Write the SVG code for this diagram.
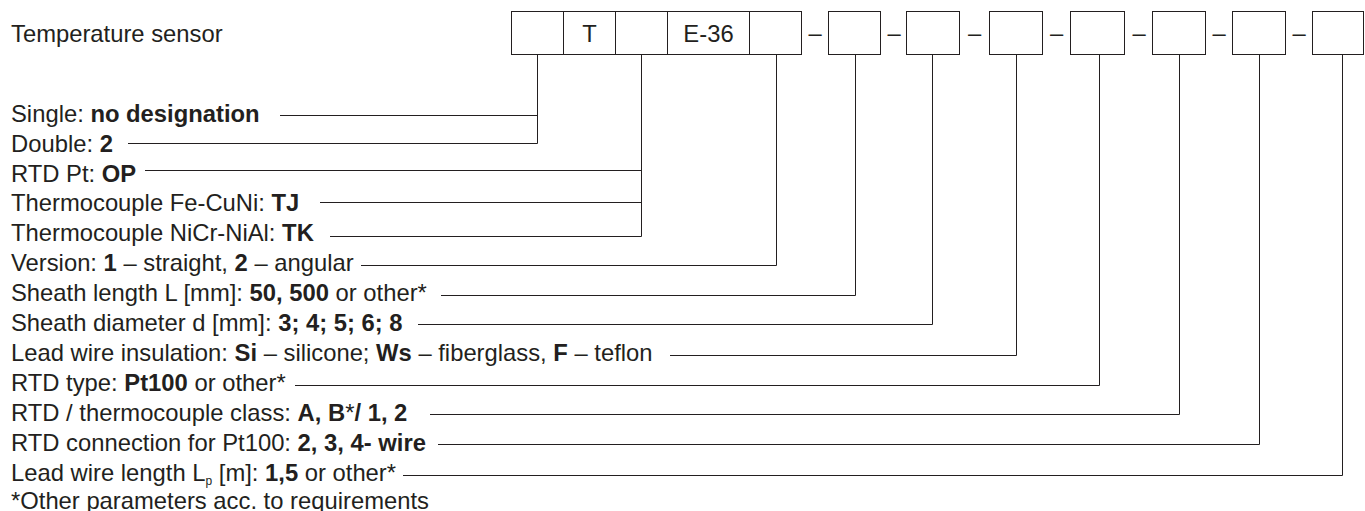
<svg xmlns="http://www.w3.org/2000/svg" width="1365" height="511" viewBox="0 0 1365 511">
<style>
text{font-family:"Liberation Sans",Arial,sans-serif;font-size:23.8px;fill:#231f20}
.b{font-weight:bold}
.c{text-anchor:middle}
.box{fill:none;stroke:#231f20;stroke-width:1}
.ln{fill:none;stroke:#231f20;stroke-width:1}
</style>
<rect width="1365" height="511" fill="#fff"/>
<g id="title"><text x="11" y="41.7">Temperature sensor</text></g>
<g id="code">
<rect class="box" x="511.5" y="11.5" width="52" height="43"/>
<rect class="box" x="563.5" y="11.5" width="52" height="43"/>
<text class="c" x="589.5" y="41.7">T</text>
<rect class="box" x="615.5" y="11.5" width="52" height="43"/>
<rect class="box" x="667.5" y="11.5" width="82" height="43"/>
<text class="c" x="708.5" y="41.7">E-36</text>
<rect class="box" x="749.5" y="11.5" width="52" height="43"/>
<text class="c" x="815" y="41">–</text>
<rect class="box" x="828.5" y="11.5" width="52" height="43"/>
<text class="c" x="894" y="41">–</text>
<rect class="box" x="906.5" y="11.5" width="53" height="43"/>
<text class="c" x="974.5" y="41">–</text>
<rect class="box" x="989.5" y="11.5" width="53" height="43"/>
<text class="c" x="1056.5" y="41">–</text>
<rect class="box" x="1070.5" y="11.5" width="54" height="43"/>
<text class="c" x="1139" y="41">–</text>
<rect class="box" x="1152.5" y="11.5" width="53" height="43"/>
<text class="c" x="1219" y="41">–</text>
<rect class="box" x="1232.5" y="11.5" width="53" height="43"/>
<text class="c" x="1299" y="41">–</text>
<rect class="box" x="1312.5" y="11.5" width="51" height="43"/>
</g>
<g id="labels">
<text x="11" y="121.7">Single: <tspan class="b">no designation</tspan></text>
<text x="11" y="151.6">Double: <tspan class="b">2</tspan></text>
<text x="11" y="181.5">RTD Pt: <tspan class="b">OP</tspan></text>
<text x="11" y="211.4">Thermocouple Fe-CuNi: <tspan class="b">TJ</tspan></text>
<text x="11" y="241.3">Thermocouple NiCr-NiAl: <tspan class="b">TK</tspan></text>
<text x="11" y="271.2">Version: <tspan class="b">1</tspan> – straight, <tspan class="b">2</tspan> – angular</text>
<text x="11" y="301.1">Sheath length L [mm]: <tspan class="b">50, 500</tspan> or other*</text>
<text x="11" y="331">Sheath diameter d [mm]: <tspan class="b">3; 4; 5; 6; 8</tspan></text>
<text x="11" y="360.9">Lead wire insulation: <tspan class="b">Si</tspan> – silicone; <tspan class="b">Ws</tspan> – fiberglass, <tspan class="b">F</tspan> – teflon</text>
<text x="11" y="390.8">RTD type: <tspan class="b">Pt100</tspan> or other*</text>
<text x="11" y="420.7">RTD / thermocouple class: <tspan class="b">A, B</tspan>*<tspan class="b">/ 1, 2</tspan></text>
<text x="11" y="450.6">RTD connection for Pt100: <tspan class="b">2, 3, 4- wire</tspan></text>
<text x="11" y="480.5">Lead wire length L<tspan font-size="12" dy="4">p</tspan><tspan dy="-4"> [m]: </tspan><tspan class="b">1,5</tspan> or other*</text>
<text x="11" y="509">*Other parameters acc. to requirements</text>
</g>
<g id="connectors">
<path class="ln" d="M280 115.5H537.5"/>
<path class="ln" d="M128 143.5H537.5V54.5"/>
<path class="ln" d="M145 170.5H641.5"/>
<path class="ln" d="M320 202.5H641.5"/>
<path class="ln" d="M330 236.5H641.5V54.5"/>
<path class="ln" d="M361 265.5H776.5V54.5"/>
<path class="ln" d="M441 295.5H855.5V54.5"/>
<path class="ln" d="M418 324.5H932.5V54.5"/>
<path class="ln" d="M670 355.5H1016.5V54.5"/>
<path class="ln" d="M295 385.5H1099.5V54.5"/>
<path class="ln" d="M430 414.5H1179.5V54.5"/>
<path class="ln" d="M438 444.5H1259.5V54.5"/>
<path class="ln" d="M403 475.5H1342.5V54.5"/>
</g>
</svg>
